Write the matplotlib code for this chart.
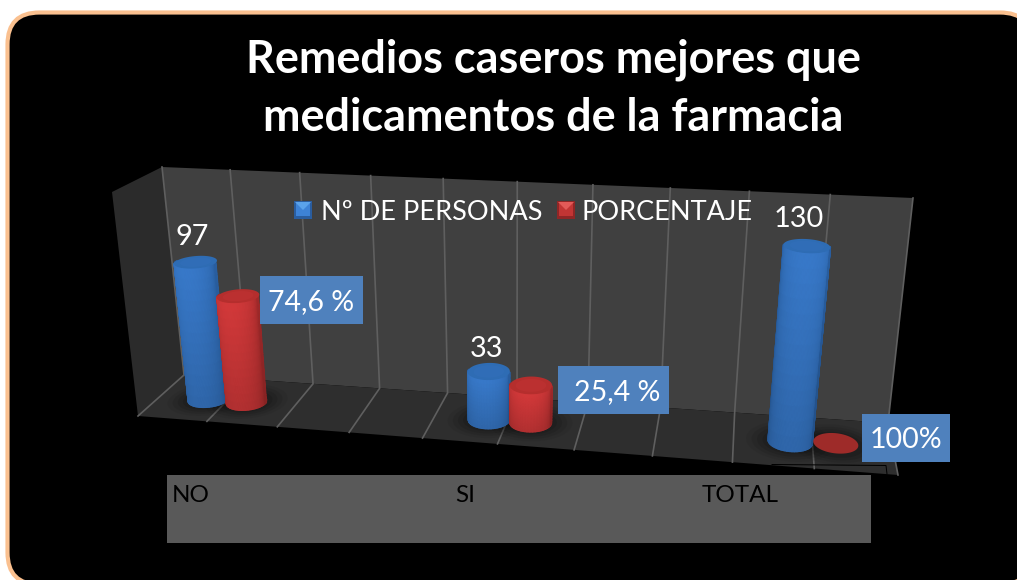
import numpy as np
import matplotlib
matplotlib.use('Agg')
import matplotlib.pyplot as plt
from matplotlib.patches import FancyBboxPatch, Polygon, Rectangle
from matplotlib.collections import PolyCollection

# chart values
categories = ['NO', 'SI', 'TOTAL']
personas = [97, 33, 130]
porcentaje = [74.6, 25.4, 1.0]
personas_labels = ['97', '33', '130']
porcentaje_labels = ['74,6 %', '25,4 %', '100%']
legend_names = ['Nº DE PERSONAS', 'PORCENTAJE']

plt.rcParams['font.family'] = ['Lato', 'DejaVu Sans']

# perspective frame of the 3d box, pixels
floor_back = [(184, 375), (888, 423)]
floor_front = [(138, 416), (898, 475)]
top_back = [(162, 167), (913, 198)]
top_front = [(112, 192), (927, 232)]
VMAX = 154.0
CELLS = 10.0
RADIUS = 0.28
BLUE = ('#245693', '#387acb', '#2e6cb4')
RED = ('#8e2424', '#d4393a', '#b52e2d')


def warp(u):
    t = np.asarray(u, dtype=float) / CELLS
    return t / (t + 1.114 * (1 - t))


def project(u, d, value):
    s = warp(u)
    v = np.asarray(value, dtype=float) / VMAX
    out = []
    for i in range(2):
        low = (1 - d) * ((1 - s) * floor_back[0][i] + s * floor_back[1][i]) + \
            d * ((1 - s) * floor_front[0][i] + s * floor_front[1][i])
        high = (1 - d) * ((1 - s) * top_back[0][i] + s * top_back[1][i]) + \
            d * ((1 - s) * top_front[0][i] + s * top_front[1][i])
        out.append((1 - v) * low + v * high)
    return out[0], out[1]


def hex_rgb(c):
    return np.array(matplotlib.colors.to_rgb(c))


def ellipse(u, value, r=RADIUS, rd=0.2, d=0.5, scale=1.0):
    th = np.linspace(0, 2 * np.pi, 80)
    x, y = project(u + r * scale * np.cos(th), d + rd * scale * np.sin(th), value)
    return np.column_stack([x, y])


def cylinder(ax, u, value, colors, z):
    edge, mid, cap = [hex_rgb(c) for c in colors]
    r, rd, d = RADIUS, 0.2, 0.5
    if value > 2:
        ax.add_patch(Polygon(ellipse(u, 0), color=edge, lw=0, zorder=z))
        ths = np.linspace(np.pi + 0.1, -0.1, 48)
        vals = np.linspace(0, value, 14)
        quads, cols = [], []
        for i in range(len(ths) - 1):
            tm = (ths[i] + ths[i + 1]) / 2
            k = np.clip(np.sin(np.clip(tm, 0.05, np.pi - 0.05)), 0, 1) ** 0.45
            for j in range(len(vals) - 1):
                f = 0.84 + 0.16 * (vals[j] / value)
                pts = []
                for th, vv in ((ths[i], vals[j]), (ths[i + 1], vals[j]),
                               (ths[i + 1], vals[j + 1]), (ths[i], vals[j + 1])):
                    pts.append(project(u + r * np.cos(th), d + rd * np.sin(th), vv))
                quads.append(pts)
                cols.append(((1 - k) * edge + k * mid) * f)
        ax.add_collection(PolyCollection(quads, facecolors=cols, edgecolors=cols,
                                         linewidths=0.9, zorder=z + 0.1))
        ax.add_patch(Polygon(ellipse(u, value), color=cap, lw=0, zorder=z + 0.2))
        ax.add_patch(Polygon(ellipse(u, value, scale=0.72), color=mid * 0.92,
                             alpha=0.45, lw=0, zorder=z + 0.3))
    else:
        ax.add_patch(Polygon(ellipse(u, value), color='#9e2b29', lw=0, zorder=z))


def quad(a, b, c, d):
    return np.array([a, b, c, d])


fig = plt.figure(figsize=(10.17, 5.8), dpi=100, facecolor='white')
ax = fig.add_axes([0, 0, 1, 1])
ax.set_xlim(0, 1017)
ax.set_ylim(580, 0)
ax.axis('off')

# outer rounded panel, runs off the right and bottom edges
ax.add_patch(FancyBboxPatch((7.5, 12.5), 1024.5, 572, boxstyle='round,pad=0,rounding_size=32',
                            fc='black', ec='#fac08f', lw=3, zorder=1))

# walls and floor
ax.add_patch(Polygon(quad(top_back[0], top_front[0], floor_front[0], floor_back[0]),
                     fc='#2b2b2b', lw=0, zorder=2))
ax.add_patch(Polygon(quad(top_back[0], top_back[1], floor_back[1], floor_back[0]),
                     fc='#404040', lw=0, zorder=2))
floor_poly = Polygon(quad(floor_back[0], floor_back[1], floor_front[1], floor_front[0]),
                     fc='#2e2e2e', lw=0, zorder=2.1)
ax.add_patch(floor_poly)

# grid lines
for u in range(int(CELLS) + 1):
    x0, y0 = project(u, 0.0, VMAX)
    x1, y1 = project(u, 0.0, 0.0)
    x2, y2 = project(u, 1.0, 0.0)
    ax.plot([x0, x1, x2], [y0, y1, y2], color='#5f5f5f', lw=1.2, zorder=2.5,
            solid_joinstyle='miter')

# thin cut near the front right corner of the floor
ax.plot([772, 886, 887], [464.5, 465.5, 474], color='black', lw=0.7, zorder=2.6)

# bars, shadows first
centres = [1.0, 5.03, 9.0]
blue_off, red_off = -0.28, 0.29
for c in centres:
    for scale, alpha in ((2.0, 0.05), (1.75, 0.07), (1.5, 0.09), (1.25, 0.11)):
        for off in (blue_off, red_off):
            shadow = Polygon(ellipse(c + off, 0, scale=scale), color='black', alpha=alpha,
                             lw=0, zorder=2.7)
            ax.add_patch(shadow)
            shadow.set_clip_path(floor_poly)

for i, c in enumerate(centres):
    cylinder(ax, c + blue_off, personas[i], BLUE, 3 + i)
    cylinder(ax, c + red_off, porcentaje[i], RED, 3.5 + i)

# value labels
label_offsets = [(-3, -25), (-2, -22), (-8, -27)]
for i, c in enumerate(centres):
    x, y = project(c + blue_off, 0.5, personas[i])
    ax.text(x + label_offsets[i][0], y + label_offsets[i][1], personas_labels[i], color='white',
            fontsize=20.8, ha='center', va='center', zorder=10)

box_centres = [(311.5, 300), (613.5, 390), (906, 438)]
box_sizes = [(103, 48), (111, 48), (88, 48)]
for (bx, by), (bw, bh), txt in zip(box_centres, box_sizes, porcentaje_labels):
    ax.add_patch(Rectangle((bx - bw / 2, by - bh / 2), bw, bh, fc='#4f81bd', lw=0, zorder=9))
    ax.text(bx + (4 if txt.startswith('25') else 0), by + 2, txt, color='white', fontsize=20.5,
            ha='center', va='center', zorder=10)

# legend
for sx, name, tx, cols in ((294, legend_names[0], 321, ('#2a5d9f', '#3d82d6', '#5aa2ea')),
                           (557, legend_names[1], 582, ('#8f2626', '#c13534', '#e25a58'))):
    ax.add_patch(Rectangle((sx, 201), 18, 18, fc=cols[0], lw=0, zorder=8))
    ax.add_patch(Rectangle((sx + 2, 203), 14, 13, fc=cols[1], lw=0, zorder=8.1))
    ax.add_patch(Polygon([(sx + 1, 202), (sx + 17, 202), (sx + 9, 210)], fc=cols[2], lw=0, zorder=8.2))
    ax.text(tx, 212, name, color='white', fontsize=19.5, ha='left', va='center', zorder=8.5)

# category band
ax.add_patch(Rectangle((167, 475), 704, 68, fc='#595959', lw=0, zorder=7))
for name, x in zip(categories, (172, 455, 702)):
    ax.text(x, 496, name, color='black', fontsize=17.5, ha='left', va='center', zorder=8)

# title
ax.text(553, 60, 'Remedios caseros mejores que', color='white', fontsize=32.4, fontweight='bold',
        ha='center', va='center', zorder=8)
ax.text(553, 118, 'medicamentos de la farmacia', color='white', fontsize=32.4, fontweight='bold',
        ha='center', va='center', zorder=8)

fig.savefig('out.png', dpi=100, facecolor='white')
